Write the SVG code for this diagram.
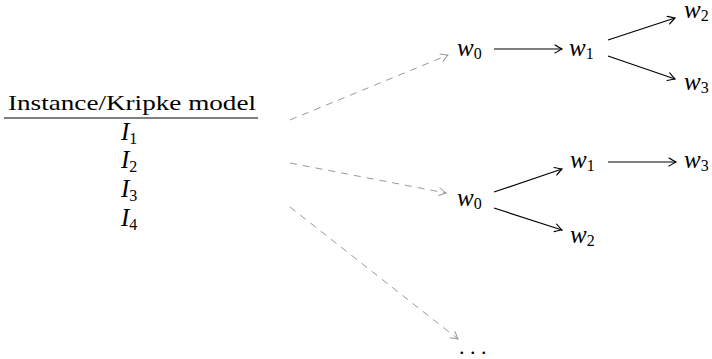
<svg xmlns="http://www.w3.org/2000/svg" width="712" height="359" viewBox="0 0 712 359">
<defs>
<style>
.t{font-family:"Liberation Serif","DejaVu Serif",serif;font-size:22px;fill:#000}
.m{font-family:"Liberation Serif","DejaVu Serif",serif;font-style:italic;font-size:25px;fill:#000}
.s{font-style:normal;font-size:16px}
.e{stroke:#000;stroke-width:1.2;fill:none;marker-end:url(#ab)}
.d{stroke:#999;stroke-width:1;fill:none;stroke-dasharray:7 6;marker-end:url(#ag)}
</style>
<marker id="ab" viewBox="-8 -5 10 10" markerWidth="10" markerHeight="10" refX="0" refY="0" orient="auto" markerUnits="userSpaceOnUse">
<path d="M-7,-4 Q-2,-1 0,0 Q-2,1 -7,4" fill="none" stroke="#000" stroke-width="1.1" stroke-linecap="round"/>
</marker>
<marker id="ag" viewBox="-8 -5 10 10" markerWidth="10" markerHeight="10" refX="0" refY="0" orient="auto" markerUnits="userSpaceOnUse">
<path d="M-7,-4 Q-2,-1 0,0 Q-2,1 -7,4" fill="none" stroke="#999" stroke-width="1" stroke-linecap="round"/>
</marker>
</defs>
<g id="table">
<text class="t" x="132" y="110" text-anchor="middle" textLength="248" lengthAdjust="spacingAndGlyphs">Instance/Kripke model</text>
<line x1="4" y1="118" x2="258" y2="118" stroke="#000" stroke-width="1.2"/>
<text class="m" x="121" y="140">I<tspan class="s" dy="4">1</tspan></text>
<text class="m" x="121" y="168">I<tspan class="s" dy="4">2</tspan></text>
<text class="m" x="121" y="197">I<tspan class="s" dy="4">3</tspan></text>
<text class="m" x="121" y="226">I<tspan class="s" dy="4">4</tspan></text>
</g>
<g id="t1w0"><text class="m" x="457" y="56">w<tspan class="s" dy="3">0</tspan></text></g>
<g id="t1w1"><text class="m" x="569" y="56">w<tspan class="s" dy="3">1</tspan></text></g>
<g id="t1w2"><text class="m" x="684" y="18">w<tspan class="s" dy="3">2</tspan></text></g>
<g id="t1w3"><text class="m" x="684" y="90">w<tspan class="s" dy="3">3</tspan></text></g>
<g id="t2w0"><text class="m" x="457" y="206">w<tspan class="s" dy="3">0</tspan></text></g>
<g id="t2w1"><text class="m" x="570" y="168">w<tspan class="s" dy="3">1</tspan></text></g>
<g id="t2w2"><text class="m" x="570" y="243">w<tspan class="s" dy="3">2</tspan></text></g>
<g id="t2w3"><text class="m" x="684" y="168">w<tspan class="s" dy="3">3</tspan></text></g>
<g id="more"><text class="t" x="459" y="354">. . .</text></g>
<g id="connectors">
<path class="d" d="M290,120 L448,55"/>
<path class="d" d="M290,163 L446,193"/>
<path class="d" d="M290,207 L458,339"/>
<path class="e" d="M494,49 L562,49"/>
<path class="e" d="M608,40 L675,18"/>
<path class="e" d="M608,56 L675,79"/>
<path class="e" d="M608,162 L676,162"/>
<path class="e" d="M494,192 L562,169"/>
<path class="e" d="M494,208 L562,230"/>
</g>
</svg>
